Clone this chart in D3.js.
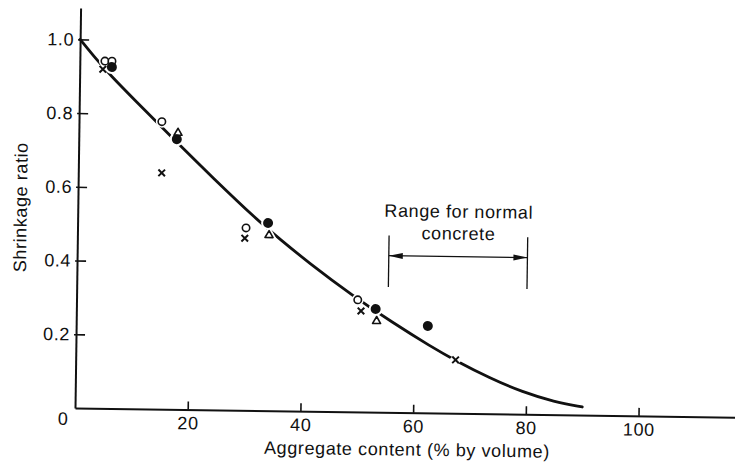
<!DOCTYPE html>
<html>
<head>
<meta charset="utf-8">
<script src="https://cdn.jsdelivr.net/npm/d3@7"></script>
<style>
  html, body { margin: 0; padding: 0; background: #fff; }
  svg { display: block; }
  text { font-family: "Liberation Sans", Arial, Helvetica, sans-serif; fill: #111; }
</style>
</head>
<body>
<div id="chart"></div>
<script>
// ---------- data ----------
const xTickValues = [20, 40, 60, 80, 100];
const yTickValues = [0.2, 0.4, 0.6, 0.8, 1.0];
const xTitle = "Aggregate content (% by volume)";
const yTitle = "Shrinkage ratio";
const originLabel = "0";

// fitted curve (aggregate %, shrinkage ratio)
const curveAggregate = [0, 3, 5.4, 10, 16, 24, 32, 36, 41, 49, 56, 63, 67.4, 73.5, 79.4, 85, 90];
const curveRatio     = [1.0, 0.945, 0.905, 0.835, 0.745, 0.628, 0.515, 0.465, 0.404, 0.315, 0.245, 0.18, 0.143, 0.097, 0.06, 0.035, 0.022];

// measured points, four symbol groups
const openCircleX   = [4.45, 5.7, 14.7, 29.9, 49.9];
const openCircleY   = [0.942, 0.942, 0.78, 0.495, 0.304];
const filledCircleX = [5.7, 17.4, 33.8, 53.1, 62.4];
const filledCircleY = [0.926, 0.733, 0.509, 0.28, 0.236];
const triangleX     = [17.6, 34.0, 53.3];
const triangleY     = [0.75, 0.476, 0.247];
const crossX        = [4.1, 14.8, 29.7, 50.5, 67.4];
const crossY        = [0.92, 0.641, 0.467, 0.274, 0.145];

// normal concrete range annotation
const rangeBounds = [55.3, 79.9];
const rangeLineSpan = [0.34, 0.48];
const rangeArrowLevel = 0.425;
const rangeLabel = ["Range for normal", "concrete"];

// ---------- drawing ----------
const W = 735, H = 466;
const svg = d3.select("#chart").append("svg").attr("width", W).attr("height", H);
svg.append("rect").attr("width", W).attr("height", H).attr("fill", "#fff");

// scanned figure is slightly rotated clockwise
const g = svg.append("g").attr("transform", "translate(75,408) rotate(0.8)");

const x = d3.scaleLinear().domain([0, 118]).range([0, 665]);
const y = d3.scaleLinear().domain([0, 1.085]).range([0, -400]);

const FONT = 18, LS = "0.6px";

// x axis
const xAxis = g.append("g")
  .call(d3.axisBottom(x).tickValues(xTickValues).tickSizeInner(-8).tickSizeOuter(0).tickPadding(7));
xAxis.select(".domain").attr("stroke", "#111").attr("stroke-width", 2);
xAxis.selectAll(".tick line").attr("stroke", "#111").attr("stroke-width", 1.6);
xAxis.selectAll(".tick text").attr("font-size", FONT).attr("letter-spacing", LS)
  .attr("font-family", "Liberation Sans, Arial, sans-serif").attr("fill", "#111");

// y axis
const yAxis = g.append("g")
  .call(d3.axisLeft(y).tickValues(yTickValues).tickSizeInner(-9).tickSizeOuter(0).tickPadding(6)
        .tickFormat(d3.format(".1f")));
yAxis.select(".domain").attr("stroke", "#111").attr("stroke-width", 2);
yAxis.selectAll(".tick line").attr("stroke", "#111").attr("stroke-width", 1.6).attr("x1", -2);
yAxis.selectAll(".tick text").attr("font-size", FONT).attr("letter-spacing", LS)
  .attr("font-family", "Liberation Sans, Arial, sans-serif").attr("fill", "#111");

// origin label
g.append("text").attr("x", x(0) - 12).attr("y", y(0) + 17)
  .attr("text-anchor", "middle").attr("font-size", FONT).text(originLabel);

// axis titles
g.append("text")
  .attr("x", (x.range()[0] + x.range()[1]) / 2).attr("y", 43)
  .attr("text-anchor", "middle").attr("font-size", FONT).attr("letter-spacing", LS)
  .text(xTitle);
g.append("text")
  .attr("transform", `translate(-51,${(y.range()[0] + y.range()[1]) / 2}) rotate(-90)`)
  .attr("text-anchor", "middle").attr("font-size", FONT).attr("letter-spacing", LS)
  .text(yTitle);

// curve
const curveData = curveAggregate.map((d, i) => [d, curveRatio[i]]);
g.append("path")
  .datum(curveData)
  .attr("fill", "none").attr("stroke", "#111").attr("stroke-width", 2.8)
  .attr("stroke-linecap", "round")
  .attr("d", d3.line().x(d => x(d[0])).y(d => y(d[1])).curve(d3.curveBasis));

// markers
const zip = (a, b) => a.map((d, i) => [d, b[i]]);
const openPts = zip(openCircleX, openCircleY);
const filledPts = zip(filledCircleX, filledCircleY);
const triPts = zip(triangleX, triangleY);
const crossPts = zip(crossX, crossY);

const triPath = d3.symbol(d3.symbolTriangle, 28)();
const crossPath = "M-3.3,-3.3L3.3,3.3M-3.3,3.3L3.3,-3.3";

// white halos (gaps in the curve around symbols)
const halo = g.append("g");
halo.selectAll(".h1").data(openPts).join("circle")
  .attr("cx", d => x(d[0])).attr("cy", d => y(d[1])).attr("r", 6).attr("fill", "#fff");
halo.selectAll(".h2").data(filledPts).join("circle")
  .attr("cx", d => x(d[0])).attr("cy", d => y(d[1])).attr("r", 7).attr("fill", "#fff");
halo.selectAll(".h3").data(triPts).join("path")
  .attr("transform", d => `translate(${x(d[0])},${y(d[1])})`)
  .attr("d", triPath).attr("fill", "#fff").attr("stroke", "#fff").attr("stroke-width", 5);
halo.selectAll(".h4").data(crossPts).join("path")
  .attr("transform", d => `translate(${x(d[0])},${y(d[1])})`)
  .attr("d", crossPath).attr("stroke", "#fff").attr("stroke-width", 7);

const marks = g.append("g");
marks.selectAll(".open").data(openPts).join("circle")
  .attr("cx", d => x(d[0])).attr("cy", d => y(d[1])).attr("r", 3.7)
  .attr("fill", "#fff").attr("stroke", "#111").attr("stroke-width", 1.6);
marks.selectAll(".tri").data(triPts).join("path")
  .attr("transform", d => `translate(${x(d[0])},${y(d[1])})`)
  .attr("d", triPath).attr("fill", "#fff").attr("stroke", "#111").attr("stroke-width", 1.6)
  .attr("stroke-linejoin", "round");
marks.selectAll(".filled").data(filledPts).join("circle")
  .attr("cx", d => x(d[0])).attr("cy", d => y(d[1])).attr("r", 5).attr("fill", "#111");
marks.selectAll(".cross").data(crossPts).join("path")
  .attr("transform", d => `translate(${x(d[0])},${y(d[1])})`)
  .attr("d", crossPath).attr("fill", "none").attr("stroke", "#111").attr("stroke-width", 2);

// range annotation
const ann = g.append("g");
rangeBounds.forEach(b => {
  ann.append("line")
    .attr("x1", x(b)).attr("x2", x(b))
    .attr("y1", y(rangeLineSpan[0])).attr("y2", y(rangeLineSpan[1]))
    .attr("stroke", "#111").attr("stroke-width", 1.3);
});
const ay = y(rangeArrowLevel);
const ax0 = x(rangeBounds[0]), ax1 = x(rangeBounds[1]);
ann.append("line").attr("x1", ax0).attr("x2", ax1).attr("y1", ay).attr("y2", ay)
  .attr("stroke", "#111").attr("stroke-width", 1.3);
ann.append("path")
  .attr("d", `M${ax0},${ay}L${ax0 + 14},${ay - 3}L${ax0 + 14},${ay + 3}Z`).attr("fill", "#111");
ann.append("path")
  .attr("d", `M${ax1},${ay}L${ax1 - 14},${ay - 3}L${ax1 - 14},${ay + 3}Z`).attr("fill", "#111");
const mid = (ax0 + ax1) / 2;
ann.append("text").attr("x", mid).attr("y", ay - 39)
  .attr("text-anchor", "middle").attr("font-size", FONT).attr("letter-spacing", LS)
  .text(rangeLabel[0]);
ann.append("text").attr("x", mid).attr("y", ay - 17)
  .attr("text-anchor", "middle").attr("font-size", FONT).attr("letter-spacing", LS)
  .text(rangeLabel[1]);
</script>
</body>
</html>
